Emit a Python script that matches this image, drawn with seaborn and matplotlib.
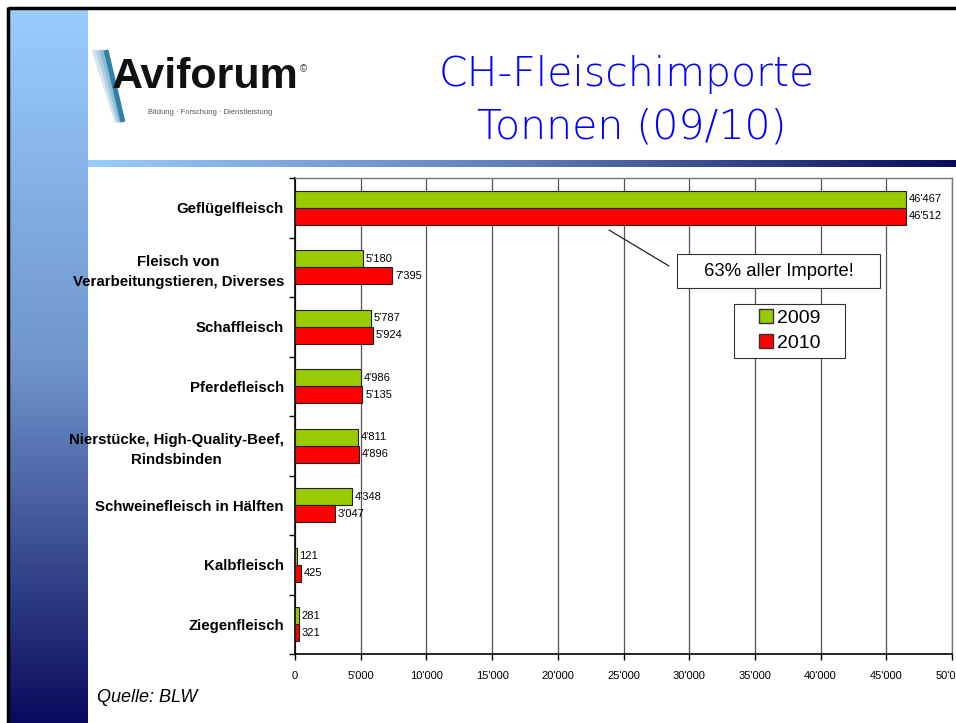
import numpy as np
import pandas as pd
import matplotlib
matplotlib.use("Agg")
import matplotlib.pyplot as plt
from matplotlib.colors import LinearSegmentedColormap
from matplotlib.ticker import FuncFormatter, MultipleLocator
from matplotlib.patches import Rectangle
import seaborn as sns

categories = ["Geflügelfleisch", "Fleisch von\nVerarbeitungstieren, Diverses", "Schaffleisch",
              "Pferdefleisch", "Nierstücke, High-Quality-Beef,\nRindsbinden",
              "Schweinefleisch in Hälften", "Kalbfleisch", "Ziegenfleisch"]
values_2009 = [46467, 5180, 5787, 4986, 4811, 4348, 121, 281]
values_2010 = [46512, 7395, 5924, 5135, 4896, 3047, 425, 321]
years = ["2009", "2010"]

sns.set_theme(style="white")
plt.rcParams['font.family'] = ['Liberation Sans', 'DejaVu Sans']
plt.rcParams['text.color'] = 'black'

W, H = 956, 723
fig = plt.figure(figsize=(W / 100, H / 100), dpi=100)
fig.patch.set_facecolor("white")

# decoration axes in pixel coordinates
deco = fig.add_axes([0, 0, 1, 1])
deco.axis("off")
light = "#99CCFF"
dark = "#0A0A5C"
cmap = LinearSegmentedColormap.from_list("g", [light, "#6F94CC", dark])
grad = np.linspace(0, 1, 256)
deco.imshow(grad[:, None], extent=[9, 88, H, 9], cmap=cmap, aspect="auto", zorder=1)
deco.imshow(grad[None, :], extent=[88, W, 167, 160],
            cmap=LinearSegmentedColormap.from_list("h", [light, "#5F7CB8", dark]),
            aspect="auto", zorder=1)
deco.plot([8, W], [8, 8], color="black", lw=2.5, zorder=3, solid_capstyle="butt")
deco.plot([8.5, 8.5], [7, H], color="black", lw=2.5, zorder=3, solid_capstyle="butt")
deco.set_xlim(0, W)
deco.set_ylim(H, 0)

# logo
for i, c in enumerate(["#D5E6EE", "#B0D0E0", "#8CBBD2", "#2F7FA6"]):
    deco.plot([94 + i * 4, 117 + i * 2], [50, 122], color=c, lw=3.5, zorder=2, solid_capstyle="butt")
deco.text(112, 88, "Aviforum", fontsize=31, fontweight="bold", color="#111111",
          va="baseline", ha="left", zorder=4)
deco.text(300, 72, "©", fontsize=7, color="#333333", zorder=4)
deco.text(148, 114, "Bildung · Forschung · Dienstleistung", fontsize=5.5, color="#555555", zorder=4)

# title
deco.text(627, 75, "CH-Fleischimporte", fontsize=29.5, color="#0000FF", ha="center", va="center",
          family=["DejaVu Sans"], fontweight="light")
deco.text(632, 127, "Tonnen (09/10)", fontsize=29.5, color="#0000FF", ha="center", va="center",
          family=["DejaVu Sans"], fontweight="light")

deco.text(97, 697, "Quelle: BLW", fontsize=13, style="italic", color="black", ha="left", va="center")

# chart
L, R, T, B = 295, 952, 178, 654
ax = fig.add_axes([L / W, 1 - B / H, (R - L) / W, (B - T) / H])
df = pd.DataFrame({
    "Kategorie": categories * 2,
    "Tonnen": values_2009 + values_2010,
    "Jahr": [years[0]] * len(categories) + [years[1]] * len(categories),
})
sns.barplot(data=df, y="Kategorie", x="Tonnen", hue="Jahr", orient="h",
            palette={"2009": "#99CC00", "2010": "#FF0000"}, width=0.57, saturation=1,
            edgecolor="#222222", linewidth=0.8, ax=ax, gap=0, zorder=3)

ax.set_xlim(0, 50000)
ax.set_ylim(len(categories) - 0.5, -0.5)
ax.xaxis.set_major_locator(MultipleLocator(5000))
ax.xaxis.set_major_formatter(FuncFormatter(lambda v, p: f"{int(v):,}".replace(",", "'")))
ax.grid(axis="x", color="#555555", lw=0.9, zorder=0)
ax.grid(axis="y", visible=False)
ax.set_xlabel("")
ax.set_ylabel("")
ax.tick_params(axis="x", labelsize=8, length=4, width=1, color="black", labelcolor="black",
               direction="out", bottom=True, pad=8)
ax.tick_params(axis="y", labelsize=10.8, length=0, pad=8, labelcolor="black")
for lbl in ax.get_yticklabels():
    lbl.set_fontweight("bold")
    lbl.set_multialignment("center")
    lbl.set_linespacing(1.55)
ax.set_yticks(np.arange(-0.5, len(categories), 1.0), minor=True)
ax.tick_params(axis="y", which="minor", length=4, width=1, color="black", direction="out", left=True)
for s in ["left", "bottom"]:
    ax.spines[s].set_color("black")
    ax.spines[s].set_linewidth(1.2)
for s in ["top", "right"]:
    ax.spines[s].set_color("#777777")
    ax.spines[s].set_linewidth(1)
    ax.spines[s].set_visible(True)

# value labels
for cont in ax.containers:
    labels = [f"{int(v):,}".replace(",", "'") for v in cont.datavalues]
    ax.bar_label(cont, labels=labels, padding=2, fontsize=8, color="black")

# pixel -> data helpers
def px2x(px):
    return (px - L) / (R - L) * 50000

def py2y(py):
    return (py - T) / (B - T) * len(categories) - 0.5

# legend (frame drawn separately)
ax.legend_.remove()
ax.add_patch(Rectangle((px2x(734), py2y(304)), px2x(845) - px2x(734), py2y(358) - py2y(304),
                       facecolor="white", edgecolor="#333333", lw=0.8, zorder=9))
handles = [Rectangle((0, 0), 1, 1, facecolor="#99CC00", edgecolor="#333333"),
           Rectangle((0, 0), 1, 1, facecolor="#FF0000", edgecolor="#333333")]
leg = ax.legend(handles, years, loc="upper left",
                bbox_to_anchor=((759 - L) / (R - L), 1 - (309 - T) / (B - T)),
                fontsize=14, frameon=False,
                handlelength=0.7, handleheight=0.7, handletextpad=0.25, borderpad=0,
                labelspacing=0.38, borderaxespad=0)
leg.set_zorder(10)

# annotation
ax.plot([px2x(609), px2x(669)], [py2y(230), py2y(266)], color="#222222", lw=0.9, zorder=9)
ax.add_patch(Rectangle((px2x(677), py2y(254)), px2x(880) - px2x(677), py2y(288) - py2y(254),
                       facecolor="white", edgecolor="#333333", lw=0.8, zorder=9))
ax.text(px2x(778.5), py2y(271), "63% aller Importe!", ha="center", va="center",
        fontsize=13.3, color="black", zorder=10)

fig.savefig("out.png", dpi=100)
